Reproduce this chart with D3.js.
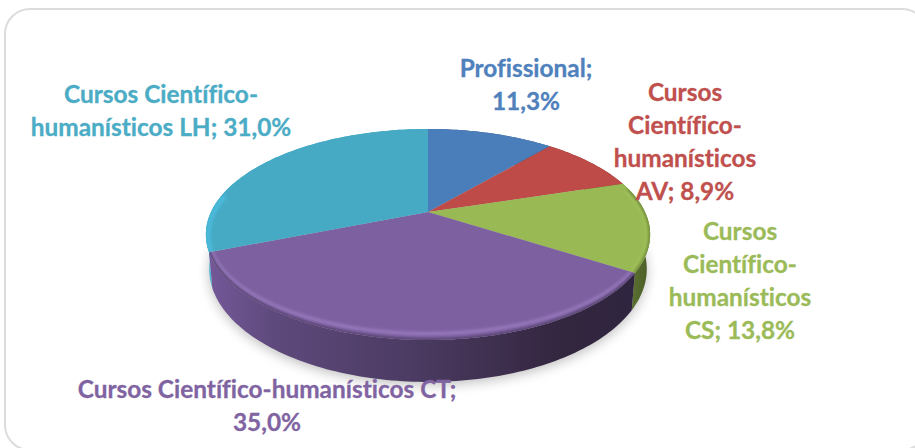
<html>
<head>
  <title>Cursos</title>
  <script src="https://d3js.org/d3.v7.min.js"></script>
  <style>
  html, body { margin: 0; padding: 0; background: white; }
  svg { display: block; }
  .label { font-family: Lato, sans-serif; font-weight: 700; font-size: 24.4px; text-anchor: middle; font-variant-ligatures: none; stroke-width: 0.3px; }
  </style>
</head>
<body>
  <svg id="chart" width="915" height="448"></svg>
  <script>
const categories = ["Profissional", "Cursos Científico-humanísticos AV", "Cursos Científico-humanísticos CS", "Cursos Científico-humanísticos CT", "Cursos Científico-humanísticos LH"];
const values = [11.3, 8.9, 13.8, 35.0, 31.0];
const labelLines = [
  ["Profissional;", "11,3%"],
  ["Cursos", "Científico-", "humanísticos", "AV; 8,9%"],
  ["Cursos", "Científico-", "humanísticos", "CS; 13,8%"],
  ["Cursos Científico-humanísticos CT;", "35,0%"],
  ["Cursos Científico-", "humanísticos LH; 31,0%"]
];
const colors = ["#4a7ebb", "#be4b48", "#98b954", "#7d60a0", "#46aac5"];
const textColors = ["#4f81bd", "#c0504d", "#9bbb59", "#8064a2", "#4bacc6"];
const sideStops = [
  ["#3a6496", "#2e4e75"],
  ["#8f3a38", "#6e2c2a"],
  ["#7a963f", "#5a7030", "#4a5c28"],
  ["#75589a", "#5f4a7d", "#49395f", "#33263f", "#2f2540"],
  ["#48b8d8", "#3a90a8"]
];
const rimColors = ["#5c92d2", "#d46461", "#a2c35c", "#9a7cc0", "#4dc0e2"];
const edgeColors = ["#4a7ebb", "#be4b48", "#6b8636", "#4f3d68", "#48b8d8"];
const labelX = [526, 685, 740, 267, 161];
const labelY = [77, 101, 240, 398, 103];

const svg = d3.select("#chart");
const defs = svg.append("defs");

// tilted disc, the front is closer so it comes out bigger
const cx = 428, cy = 212, A = 217, B = 100.7, p = 0.2133, D = 33;
function proj(a, drop) {
  const u = Math.sin(a), v = -Math.cos(a), w = 1 - p * v;
  const x = A * u / w, y = B * v / w;
  return drop ? [cx + x * 0.985, cy + y + D / w] : [cx + x, cy + y];
}
function rim(a0, a1, drop) {
  const n = Math.max(2, Math.ceil((a1 - a0) / 0.02));
  return d3.range(n + 1).map(i => proj(a0 + (a1 - a0) * i / n, drop));
}

const line = d3.line();
const arcs = d3.pie().sort(null).value(d => d)(values);

defs.append("filter").attr("id", "shadow").attr("x", "-20%").attr("y", "-20%").attr("width", "140%").attr("height", "140%")
  .append("feGaussianBlur").attr("stdDeviation", 6);
defs.append("filter").attr("id", "soft").attr("x", "-20%").attr("y", "-20%").attr("width", "140%").attr("height", "140%")
  .append("feGaussianBlur").attr("stdDeviation", 1.8);

arcs.forEach((d, i) => {
  const g = defs.append("linearGradient").attr("id", "side" + i)
    .attr("gradientUnits", "userSpaceOnUse")
    .attr("x1", 205).attr("x2", 650).attr("y1", 0).attr("y2", 0);
  const stops = sideStops[i];
  if (stops.length === 5) {
    [0, 0.15, 0.5, 0.8, 1].forEach((o, j) => g.append("stop").attr("offset", o).attr("stop-color", stops[j]));
  } else if (stops.length === 3) {
    [0.9, 0.96, 1].forEach((o, j) => g.append("stop").attr("offset", o).attr("stop-color", stops[j]));
  } else {
    [0, 1].forEach((o, j) => g.append("stop").attr("offset", o).attr("stop-color", stops[j]));
  }
  defs.append("clipPath").attr("id", "clip" + i)
    .append("path").attr("d", line([[cx, cy]].concat(rim(d.startAngle, d.endAngle, false))) + "Z");
});

// card
svg.append("rect")
  .attr("x", 5).attr("y", 9).attr("width", 922).attr("height", 441).attr("rx", 25)
  .attr("fill", "white").attr("stroke", "#dcdcdc").attr("stroke-width", 2);

// shadow under the disc
svg.append("path")
  .attr("d", line(rim(0, 2 * Math.PI, true).map(q => [q[0], q[1] + 3])) + "Z")
  .attr("fill", "#8c8c8c").attr("opacity", 0.55).attr("filter", "url(#shadow)");

// side wall, back slices first so purple ends up in front
[4, 0, 1, 2, 3].forEach(i => {
  const d = arcs[i];
  const top = rim(d.startAngle, d.endAngle, false);
  const bottom = rim(d.startAngle, d.endAngle, true).reverse();
  svg.append("path")
    .attr("d", line(top.concat(bottom)) + "Z")
    .attr("fill", "url(#side" + i + ")");
});

// top face
arcs.forEach((d, i) => {
  svg.append("path")
    .attr("d", line([[cx, cy]].concat(rim(d.startAngle, d.endAngle, false))) + "Z")
    .attr("fill", colors[i]);
});

// bevel: soft edge on the rim and a highlight just inside it, front of the disc only
const bevelFrom = Math.PI * 0.42, bevelTo = Math.PI * 1.56;
arcs.forEach((d, i) => {
  const a0 = Math.max(d.startAngle, bevelFrom), a1 = Math.min(d.endAngle, bevelTo);
  if (a1 <= a0) return;
  const inner = rim(a0, a1, false).map(q => [q[0] + (cx - q[0]) * 0.012, q[1] + (234 - q[1]) * 0.06]);
  const clip = svg.append("g").attr("clip-path", "url(#clip" + i + ")");
  clip.append("path")
    .attr("d", line(inner))
    .attr("fill", "none")
    .attr("stroke", rimColors[i])
    .attr("stroke-width", 3)
    .attr("filter", "url(#soft)");
  clip.append("path")
    .attr("d", line(rim(a0, a1, false)))
    .attr("fill", "none")
    .attr("stroke", edgeColors[i])
    .attr("stroke-width", 3)
    .attr("filter", "url(#soft)");
});

// labels
labelLines.forEach((lines, i) => {
  const t = svg.append("text").attr("class", "label").attr("fill", textColors[i]).attr("stroke", textColors[i]);
  lines.forEach((s, j) => {
    t.append("tspan").attr("x", labelX[i]).attr("y", labelY[i] + j * 33).text(s);
  });
});
  </script>
</body>
</html>
